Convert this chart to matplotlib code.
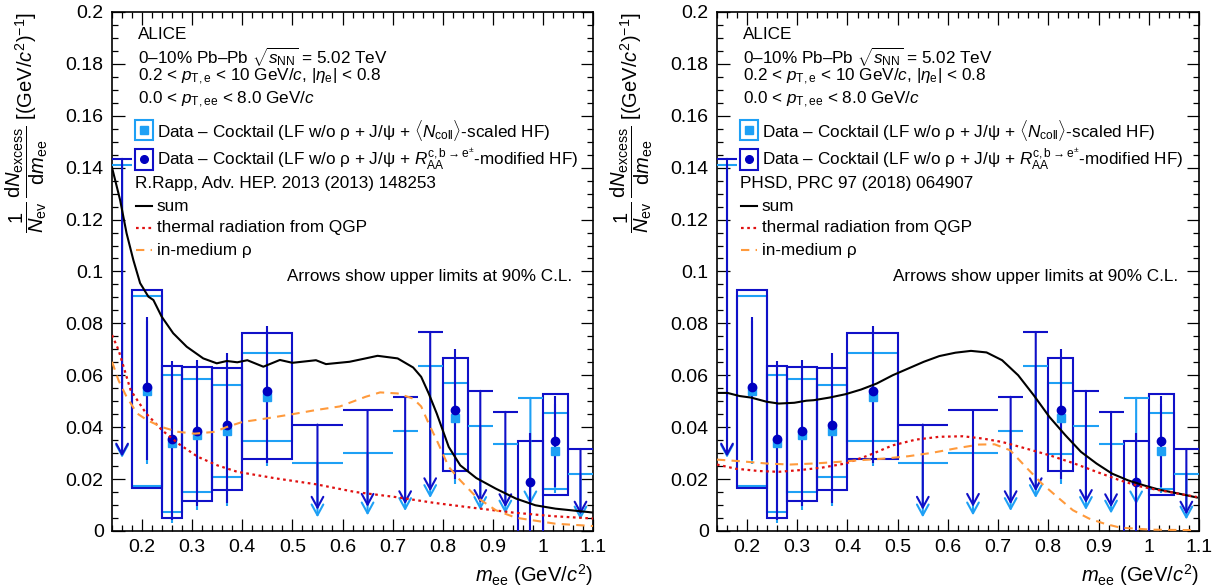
import numpy as np
import matplotlib
matplotlib.use('Agg')
import matplotlib.pyplot as plt
from matplotlib.patches import Rectangle

plt.rcParams['font.family'] = ['Liberation Sans', 'DejaVu Sans']
plt.rcParams['mathtext.fontset'] = 'custom'
plt.rcParams['mathtext.rm'] = 'Liberation Sans'
plt.rcParams['mathtext.it'] = 'Liberation Sans:italic'
plt.rcParams['mathtext.bf'] = 'Liberation Sans:bold'

DARK = '#1010c8'
DARK_M = '#0000c0'
LIGHT = '#1ea0f5'

# ---- data: excess spectrum (same in both panels) ----
# bins with a measured point
pt_x = [0.21, 0.26, 0.31, 0.37, 0.45, 0.825, 0.975, 1.025]
pt_lo = [0.18, 0.24, 0.28, 0.34, 0.40, 0.80, 0.95, 1.00]
pt_hi = [0.24, 0.28, 0.34, 0.40, 0.50, 0.85, 1.00, 1.05]
# R_AA-modified HF (dark)
raa_y = [0.0556, 0.0354, 0.0386, 0.0408, 0.0539, 0.0468, 0.0188, 0.0346]
raa_stat_lo = [0.0273, 0.0041, 0.0096, 0.0108, 0.0262, 0.0200, -0.002, 0.0170]
raa_stat_hi = [0.0826, 0.0656, 0.0658, 0.0687, 0.0790, 0.0700, 0.0376, 0.0520]
raa_sys_lo = [0.0167, 0.0051, 0.0116, 0.0157, 0.0277, 0.0230, -0.003, 0.0138]
raa_sys_hi = [0.0929, 0.0637, 0.0630, 0.0628, 0.0761, 0.0665, 0.0347, 0.0527]
# Ncoll-scaled HF (light), no point in the 0.95-1.0 bin
nc_x = [0.21, 0.26, 0.31, 0.37, 0.45, 0.825, 1.025]
nc_lo = [0.18, 0.24, 0.28, 0.34, 0.40, 0.80, 1.00]
nc_hi = [0.24, 0.28, 0.34, 0.40, 0.50, 0.85, 1.05]
nc_y = [0.0540, 0.0340, 0.0368, 0.0385, 0.0517, 0.0436, 0.0310]
nc_stat_lo = [0.0260, 0.0030, 0.0080, 0.0095, 0.0250, 0.0180, 0.0145]
nc_stat_hi = [0.0810, 0.0640, 0.0640, 0.0660, 0.0770, 0.0670, 0.0490]
nc_sys_lo = [0.0172, 0.0073, 0.0150, 0.0208, 0.0346, 0.0296, 0.0163]
nc_sys_hi = [0.0905, 0.0600, 0.0584, 0.0563, 0.0684, 0.0571, 0.0455]

# upper limits (90% C.L.)
ul_raa_x = [0.16, 0.55, 0.65, 0.725, 0.775, 0.875, 0.925, 1.075]
ul_raa_lo = [0.14, 0.50, 0.60, 0.70, 0.75, 0.85, 0.90, 1.05]
ul_raa_hi = [0.18, 0.60, 0.70, 0.75, 0.80, 0.90, 0.95, 1.10]
ul_raa = [0.1434, 0.0410, 0.0466, 0.0517, 0.0767, 0.0540, 0.0459, 0.0316]
ul_nc_x = [0.16, 0.55, 0.65, 0.725, 0.775, 0.875, 0.925, 0.975, 1.075]
ul_nc_lo = [0.14, 0.50, 0.60, 0.70, 0.75, 0.85, 0.90, 0.95, 1.05]
ul_nc_hi = [0.18, 0.60, 0.70, 0.75, 0.80, 0.90, 0.95, 1.00, 1.10]
ul_nc = [0.1410, 0.0262, 0.0300, 0.0385, 0.0635, 0.0405, 0.0336, 0.0513, 0.0221]
ARROW_FRAC = 0.2   # arrow tip drawn at this fraction of the limit

# ---- model curves ----
rapp_sum_x = [0.14, 0.156, 0.169, 0.1825, 0.196, 0.2125, 0.2225, 0.239, 0.262, 0.289,
              0.322, 0.349, 0.369, 0.39, 0.41, 0.442, 0.475, 0.50, 0.547, 0.567,
              0.614, 0.646, 0.670, 0.71, 0.741, 0.757, 0.772, 0.788, 0.812, 0.835,
              0.867, 0.906, 0.946, 0.985, 1.025, 1.1]
rapp_sum_y = [0.140, 0.1276, 0.1147, 0.1044, 0.0955, 0.0903, 0.089, 0.0826, 0.0762, 0.071,
              0.0665, 0.0646, 0.0655, 0.065, 0.0658, 0.0633, 0.0659, 0.0648, 0.0658, 0.0643,
              0.0652, 0.0665, 0.0675, 0.0665, 0.063, 0.0594, 0.053, 0.0453, 0.0324, 0.0253,
              0.0204, 0.0163, 0.0125, 0.0099, 0.0086, 0.0071]
rapp_qgp_x = [0.14, 0.153, 0.177, 0.208, 0.24, 0.272, 0.311, 0.35, 0.39, 0.469, 0.547,
              0.626, 0.705, 0.784, 0.862, 0.94, 1.02, 1.1]
rapp_qgp_y = [0.0755, 0.0697, 0.0543, 0.0453, 0.0388, 0.0337, 0.0286, 0.0253, 0.0228,
              0.0202, 0.018, 0.015, 0.0131, 0.0108, 0.0089, 0.0071, 0.0057, 0.0048]
rapp_rho_x = [0.14, 0.153, 0.169, 0.19, 0.21, 0.24, 0.272, 0.305, 0.345, 0.368, 0.40,
              0.446, 0.50, 0.547, 0.595, 0.646, 0.675, 0.71, 0.741, 0.757, 0.772, 0.788,
              0.812, 0.835, 0.867, 0.906, 0.946, 1.025, 1.1]
rapp_rho_y = [0.0652, 0.058, 0.0517, 0.0453, 0.0427, 0.040, 0.0382, 0.0375, 0.0382, 0.040,
              0.042, 0.0433, 0.045, 0.0466, 0.048, 0.0517, 0.0534, 0.053, 0.051, 0.048,
              0.0414, 0.035, 0.0247, 0.0195, 0.0131, 0.008, 0.0051, 0.0028, 0.0019]

phsd_sum_x = [0.14, 0.161, 0.185, 0.208, 0.239, 0.263, 0.294, 0.318, 0.333, 0.364, 0.396,
              0.427, 0.458, 0.49, 0.521, 0.552, 0.583, 0.615, 0.646, 0.677, 0.708, 0.74,
              0.771, 0.802, 0.834, 0.865, 0.896, 0.927, 0.959, 0.99, 1.021, 1.06, 1.096]
phsd_sum_y = [0.0532, 0.0532, 0.052, 0.0514, 0.0498, 0.0491, 0.0494, 0.0502, 0.0504, 0.0514,
              0.0527, 0.0545, 0.0568, 0.060, 0.0626, 0.0652, 0.0674, 0.0687, 0.0694, 0.0688,
              0.0658, 0.060, 0.0523, 0.044, 0.0369, 0.0305, 0.026, 0.0221, 0.0195, 0.0176,
              0.0159, 0.0144, 0.0129]
phsd_qgp_x = [0.14, 0.177, 0.224, 0.263, 0.302, 0.349, 0.396, 0.443, 0.49, 0.536, 0.583,
              0.63, 0.67, 0.708, 0.755, 0.802, 0.849, 0.896, 0.943, 0.982, 1.021, 1.096]
phsd_qgp_y = [0.0256, 0.024, 0.0231, 0.0228, 0.0234, 0.0244, 0.026, 0.0292, 0.033, 0.0352,
              0.0363, 0.0365, 0.0356, 0.0343, 0.0318, 0.0292, 0.0262, 0.0228, 0.0195, 0.0172,
              0.0157, 0.0131]
phsd_rho_x = [0.14, 0.185, 0.239, 0.286, 0.333, 0.38, 0.427, 0.474, 0.521, 0.568, 0.615,
              0.662, 0.693, 0.724, 0.755, 0.787, 0.818, 0.849, 0.881, 0.912, 0.943, 1.006, 1.096]
phsd_rho_y = [0.0275, 0.0269, 0.026, 0.0256, 0.026, 0.0266, 0.0273, 0.0279, 0.0288, 0.0301,
              0.0318, 0.0333, 0.0334, 0.0311, 0.0247, 0.0183, 0.0131, 0.008, 0.0048, 0.0028,
              0.0013, 0.0005, 0.0003]

header = ['ALICE',
          r'0–10% Pb–Pb $\sqrt{s_{\rm NN}}$ = 5.02 TeV',
          r'0.2 < $p_{\rm T,e}$ < 10 GeV/$c$, |$\eta_{\rm e}$| < 0.8',
          r'0.0 < $p_{\rm T,ee}$ < 8.0 GeV/$c$']
leg_nc = r'Data – Cocktail (LF w/o ρ + J/ψ + $\langle N_{\rm coll}\rangle$-scaled HF)'
leg_raa = r'Data – Cocktail (LF w/o ρ + J/ψ + $R_{\rm AA}^{\rm c,b\rightarrow e^{\pm}}$-modified HF)'
models = ['R.Rapp, Adv. HEP. 2013 (2013) 148253', 'PHSD, PRC 97 (2018) 064907']
curve_labels = ['sum', 'thermal radiation from QGP', 'in-medium ρ']

FS = 12.3


def draw_panel(ax, model, sx, sy, qx, qy, rx, ry):
    # systematic boxes
    for lo, hi, b0, b1 in zip(nc_lo, nc_hi, nc_sys_lo, nc_sys_hi):
        ax.add_patch(Rectangle((lo, b0), hi - lo, b1 - b0, fill=False, ec=LIGHT, lw=1.5, zorder=2))
    for lo, hi, b0, b1 in zip(pt_lo, pt_hi, raa_sys_lo, raa_sys_hi):
        ax.add_patch(Rectangle((lo, b0), hi - lo, b1 - b0, fill=False, ec=DARK, lw=1.5, zorder=3))
    # statistical errors
    ax.vlines(nc_x, nc_stat_lo, nc_stat_hi, color=LIGHT, lw=1.5, zorder=4)
    ax.vlines(pt_x, raa_stat_lo, raa_stat_hi, color=DARK, lw=1.5, zorder=5)
    ax.plot(nc_x, nc_y, 's', color=LIGHT, ms=6, mec=LIGHT, zorder=6)
    ax.plot(pt_x, raa_y, 'o', color=DARK_M, ms=6, zorder=7)
    # upper limits
    for xs, los, his, uls, col, z in [(ul_nc_x, ul_nc_lo, ul_nc_hi, ul_nc, LIGHT, 4),
                                      (ul_raa_x, ul_raa_lo, ul_raa_hi, ul_raa, DARK, 5)]:
        ax.hlines(uls, los, his, color=col, lw=1.5, zorder=z)
        for x, u in zip(xs, uls):
            ax.annotate('', xy=(x, u * ARROW_FRAC), xytext=(x, u),
                        arrowprops=dict(arrowstyle='->,head_length=0.55,head_width=0.3',
                                        color=col, lw=1.5, shrinkA=0, shrinkB=0,
                                        mutation_scale=14), zorder=z)
    # model curves
    ax.plot(sx, sy, color='black', lw=1.5, zorder=8)
    ax.plot(qx, qy, color='#e01010', lw=1.6, ls=(0, (1.2, 1.6)), zorder=8)
    ax.plot(rx, ry, color='#ff9a3c', lw=1.5, ls=(0, (4, 3)), zorder=8)

    ax.set_xlim(0.14, 1.1)
    ax.set_ylim(0, 0.2)
    ax.set_xticks(np.arange(0.2, 1.11, 0.1))
    ax.set_xticklabels(['0.2', '0.3', '0.4', '0.5', '0.6', '0.7', '0.8', '0.9', '1', '1.1'])
    ax.set_xticks(np.arange(0.14, 1.1001, 0.02), minor=True)
    ax.set_yticks(np.arange(0, 0.2001, 0.02))
    ax.set_yticklabels(['0', '0.02', '0.04', '0.06', '0.08', '0.1', '0.12', '0.14',
                        '0.16', '0.18', '0.2'])
    ax.set_yticks(np.arange(0, 0.2001, 0.005), minor=True)
    ax.tick_params(which='both', direction='in', top=True, right=True, labelsize=14,
                   width=0.9, color='black')
    ax.tick_params(which='major', length=9, pad=6)
    ax.tick_params(which='minor', length=4.5)
    for s in ax.spines.values():
        s.set_linewidth(1.2)

    ax.set_xlabel(r'$m_{\rm ee}$ (GeV/$c^{2}$)', fontsize=14.5, loc='right', labelpad=4)
    ax.set_ylabel(r'$\dfrac{1}{N_{\rm ev}}\,\dfrac{{\rm d}N_{\rm excess}}{{\rm d}m_{\rm ee}}$ '
                  r'[(GeV/$c^{2}$)$^{-1}$]', fontsize=14.5, loc='top')
    ax.yaxis.set_label_coords(-0.128, 1.0)

    # header text
    tx = 0.053
    for t, y in zip(header, [0.956, 0.913, 0.875, 0.830]):
        ax.text(tx, y, t, transform=ax.transAxes, fontsize=FS, va='center', ha='left')
    # legend: data entries
    ax.add_patch(Rectangle((0.048, 0.753), 0.037, 0.039, transform=ax.transAxes,
                           fill=False, ec=LIGHT, lw=1.5, clip_on=False))
    ax.plot([0.0665], [0.772], 's', color=LIGHT, ms=6, transform=ax.transAxes)
    ax.add_patch(Rectangle((0.048, 0.696), 0.037, 0.040, transform=ax.transAxes,
                           fill=False, ec=DARK, lw=1.5, clip_on=False))
    ax.plot([0.0665], [0.716], 'o', color=DARK_M, ms=5.5, transform=ax.transAxes)
    ax.text(0.0925, 0.772, leg_nc, transform=ax.transAxes, fontsize=FS, va='center')
    ax.text(0.0925, 0.716, leg_raa, transform=ax.transAxes, fontsize=FS, va='center')
    ax.text(0.047, 0.669, model, transform=ax.transAxes, fontsize=FS, va='center')
    # legend: curves
    styles = [dict(color='black', lw=1.5),
              dict(color='#e01010', lw=1.6, ls=(0, (1.2, 1.6))),
              dict(color='#ff9a3c', lw=1.5, ls=(0, (4, 3)))]
    for lab, st, y in zip(curve_labels, styles, [0.626, 0.584, 0.541]):
        ax.plot([0.049, 0.083], [y, y], transform=ax.transAxes, **st)
        ax.text(0.0925, y, lab, transform=ax.transAxes, fontsize=FS, va='center')
    ax.text(0.956, 0.491, 'Arrows show upper limits at 90% C.L.', transform=ax.transAxes,
            fontsize=FS, va='center', ha='right')


fig = plt.figure(figsize=(12.26, 5.86), dpi=100)
ax1 = fig.add_axes([0.0914, 0.0939, 0.3923, 0.8857])
ax2 = fig.add_axes([0.5848, 0.0939, 0.3931, 0.8857])

draw_panel(ax1, models[0], rapp_sum_x, rapp_sum_y, rapp_qgp_x, rapp_qgp_y, rapp_rho_x, rapp_rho_y)
draw_panel(ax2, models[1], phsd_sum_x, phsd_sum_y, phsd_qgp_x, phsd_qgp_y, phsd_rho_x, phsd_rho_y)

fig.savefig('out.png', dpi=100)
